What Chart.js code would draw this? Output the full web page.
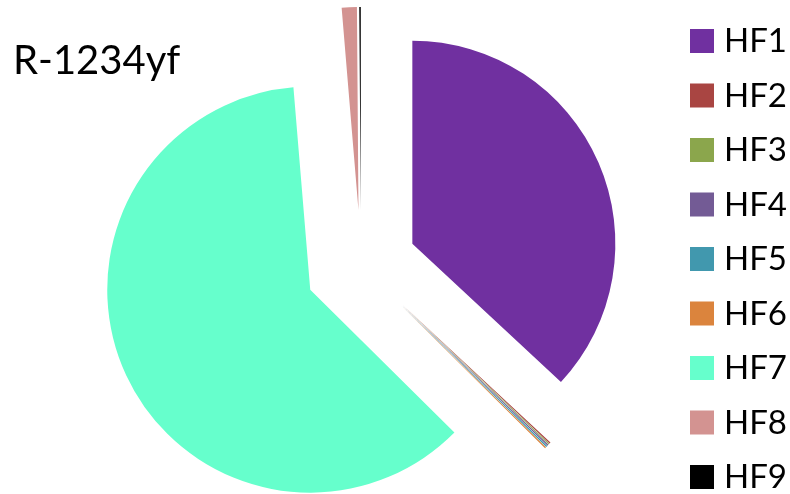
<!DOCTYPE html>
<html>
<head>
<meta charset="utf-8">
<script src="https://cdn.jsdelivr.net/npm/chart.js@4.4.0/dist/chart.umd.min.js"></script>
<style>
  html, body { margin: 0; padding: 0; background: #ffffff; }
</style>
</head>
<body>
<canvas id="myChart" width="790" height="494"></canvas>
<script>
// R-1234yf share per heat flux level
var title = 'R-1234yf';
var labels = ['HF1', 'HF2', 'HF3', 'HF4', 'HF5', 'HF6', 'HF7', 'HF8', 'HF9'];
var shares = [36.9, 0.1, 0.08, 0.1, 0.12, 0.1, 61.2, 1.2, 0.12];
var colors = ['#7030A0', '#A94542', '#8BA64C', '#735B95', '#4198AE', '#DB843D', '#66FFCC', '#D39391', '#000000'];

var explode = 56; // gap from the centre, px

var ctx = document.getElementById('myChart');

// the built-in offset also grows the radius and trims the arc,
// so just push every arc out along its middle angle instead
var explodePlugin = {
  id: 'explode',
  afterDatasetUpdate: function (chart, args) {
    var meta = chart.getDatasetMeta(args.index);
    meta.data.forEach(function (arc) {
      var mid = (arc.startAngle + arc.endAngle) / 2;
      arc.x += Math.cos(mid) * explode;
      arc.y += Math.sin(mid) * explode;
    });
  }
};

// title top-left + legend on the right, drawn on the canvas
var sideText = {
  id: 'sideText',
  afterDraw: function (chart) {
    var c = chart.ctx;
    c.save();
    c.fillStyle = '#000000';
    c.textBaseline = 'alphabetic';
    c.textAlign = 'left';
    c.font = '40px Lato';
    c.fillText(title, 13, 74);

    c.font = '33px Lato';
    for (var i = 0; i < chart.data.labels.length; i++) {
      var top = 29 + i * 54.5;
      c.fillStyle = chart.data.datasets[0].backgroundColor[i];
      c.fillRect(690, top, 24, 24);
      c.fillStyle = '#000000';
      c.fillText(chart.data.labels[i], 724, top + 23);
    }
    c.restore();
  }
};

var myChart = new Chart(ctx, {
  type: 'pie',
  data: {
    labels: labels,
    datasets: [{
      data: shares,
      backgroundColor: colors,
      borderWidth: 0,
      offset: 0,
      hoverOffset: 0,
      clip: false
    }]
  },
  options: {
    responsive: false,
    animation: false,
    radius: 203,
    layout: {
      padding: { left: 0, right: 68, top: 38, bottom: 0 }
    },
    plugins: {
      legend: { display: false },
      tooltip: { enabled: false }
    }
  },
  plugins: [explodePlugin, sideText]
});
</script>
</body>
</html>
